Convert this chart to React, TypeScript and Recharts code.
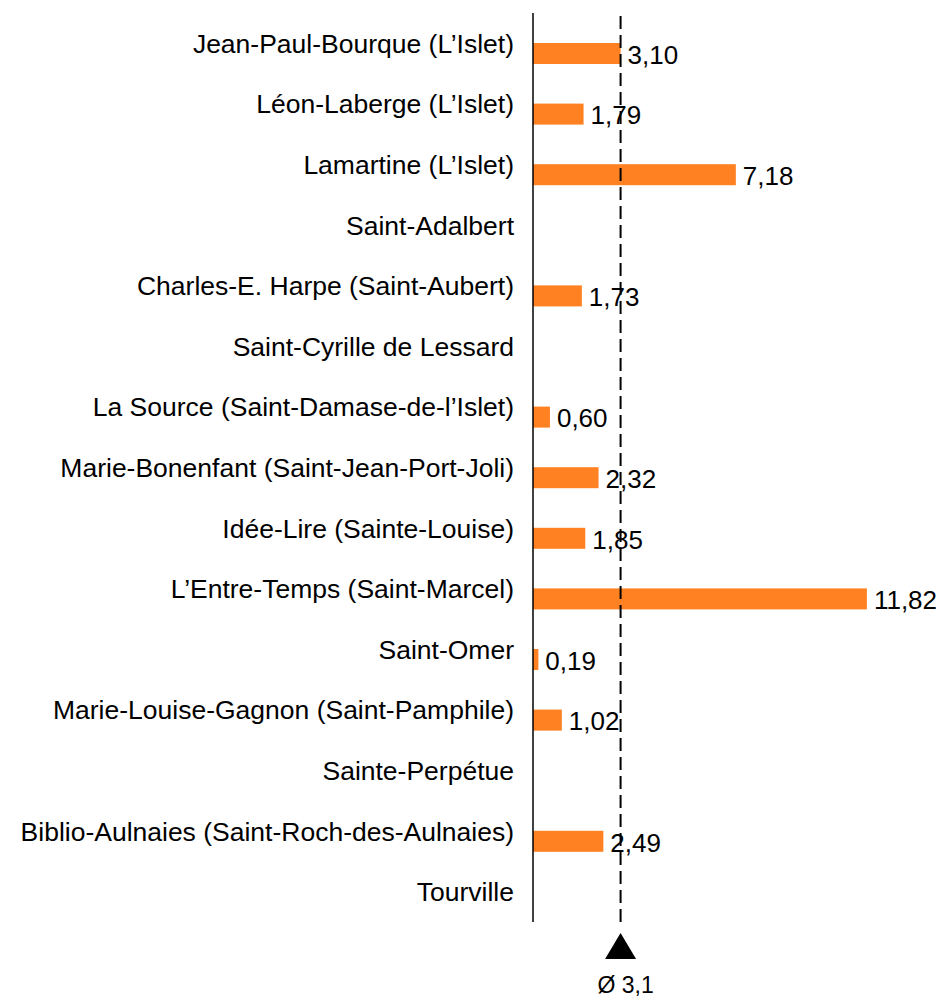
import React from 'react';
import { BarChart, Bar, XAxis, YAxis, ReferenceLine, LabelList } from 'recharts';

const categories = [
  'Jean-Paul-Bourque (L’Islet)',
  'Léon-Laberge (L’Islet)',
  'Lamartine (L’Islet)',
  'Saint-Adalbert',
  'Charles-E. Harpe (Saint-Aubert)',
  'Saint-Cyrille de Lessard',
  'La Source (Saint-Damase-de-l’Islet)',
  'Marie-Bonenfant (Saint-Jean-Port-Joli)',
  'Idée-Lire (Sainte-Louise)',
  'L’Entre-Temps (Saint-Marcel)',
  'Saint-Omer',
  'Marie-Louise-Gagnon (Saint-Pamphile)',
  'Sainte-Perpétue',
  'Biblio-Aulnaies (Saint-Roch-des-Aulnaies)',
  'Tourville',
];

const values: (number | null)[] = [
  3.1, 1.79, 7.18, null, 1.73, null, 0.6, 2.32, 1.85, 11.82, 0.19, 1.02, null, 2.49, null,
];

const average = 3.1;
const averageLabel = 'Ø 3,1';

const data = categories.map((name, i) => ({ name, value: values[i] }));

const FONT = '"Liberation Sans", Arial, sans-serif';
const ORANGE = '#FF8122';
// bars sit a bit lower than their category label
const BAR_SHIFT = 10;

const fmt = (v: number) => v.toFixed(2).replace('.', ',');

const CategoryTick = (props: any) => {
  const { x, y, payload } = props;
  return (
    <text x={x} y={y} dy="0.355em" textAnchor="end" fontFamily={FONT} fontSize={26.5} fill="#000">
      {payload.value}
    </text>
  );
};

const ShiftedBar = (props: any) => {
  const { x, y, width, height, fill } = props;
  if (!width) return null;
  return <rect x={x} y={y + BAR_SHIFT} width={width} height={height} fill={fill} />;
};

const ValueLabel = (props: any) => {
  const { x, y, width, height, value } = props;
  if (value == null) return null;
  return (
    <text
      x={x + width + 7}
      y={y + height / 2 + BAR_SHIFT + 1}
      dy="0.355em"
      fontFamily={FONT}
      fontSize={26}
      fill="#000"
    >
      {fmt(value)}
    </text>
  );
};

const AverageMarker = (props: any) => {
  const { viewBox } = props;
  if (!viewBox) return null;
  const cx = viewBox.x;
  const bottom = viewBox.y + viewBox.height;
  const top = bottom + 11;
  const base = bottom + 37;
  return (
    <g>
      <polygon points={`${cx},${top} ${cx - 15.5},${base} ${cx + 15.5},${base}`} fill="#000" />
      <text x={cx + 5} y={bottom + 71} textAnchor="middle" fontFamily={FONT} fontSize={23} fill="#000">
        {averageLabel}
      </text>
    </g>
  );
};

export default function App() {
  return (
    <div style={{ position: 'absolute', left: 0, top: 0, background: '#fff' }}>
      <BarChart
        width={944}
        height={999}
        data={data}
        layout="vertical"
        margin={{ top: 13, right: 72, bottom: 77, left: 0 }}
        barSize={21}
      >
        <XAxis type="number" domain={[0, 12]} hide />
        <YAxis
          type="category"
          dataKey="name"
          width={533}
          interval={0}
          tickLine={false}
          tickSize={0}
          tickMargin={19}
          axisLine={{ stroke: '#000', strokeWidth: 1.5 }}
          tick={<CategoryTick />}
        />
        <Bar dataKey="value" fill={ORANGE} shape={<ShiftedBar />} isAnimationActive={false}>
          <LabelList dataKey="value" content={<ValueLabel />} />
        </Bar>
        <ReferenceLine
          x={average}
          stroke="#000"
          strokeWidth={2}
          strokeDasharray="13 6"
          label={<AverageMarker />}
        />
      </BarChart>
    </div>
  );
}
